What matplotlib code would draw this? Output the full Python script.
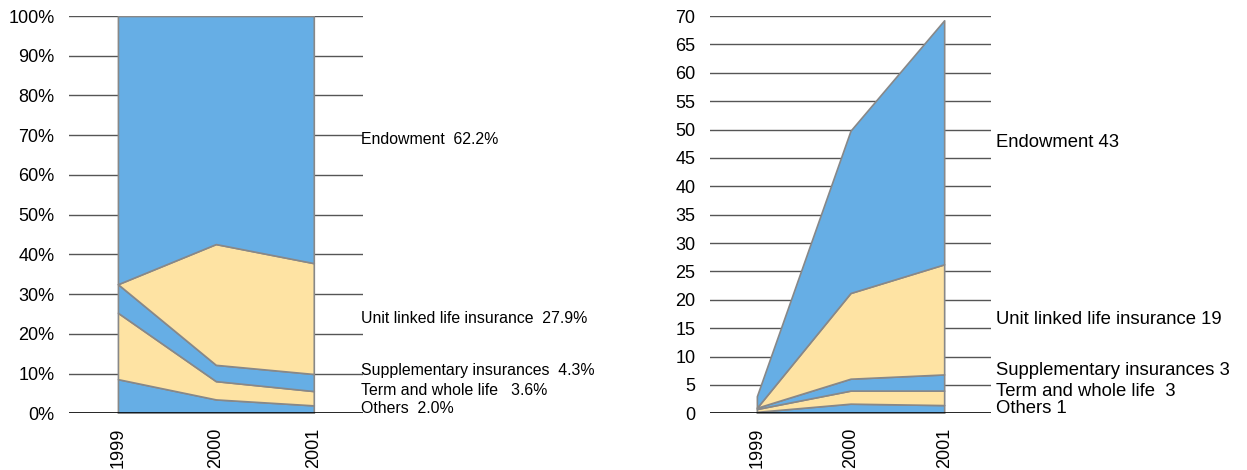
import numpy as np
import matplotlib
matplotlib.use("Agg")
import matplotlib.pyplot as plt

plt.rcParams['font.family'] = ['Liberation Sans', 'DejaVu Sans']

years = ["1999", "2000", "2001"]
categories = ["Others", "Term and whole life", "Supplementary insurances",
              "Unit linked life insurance", "Endowment"]

# shares, % (left chart), bottom to top
share_others = [8.6, 3.5, 2.0]
share_term = [16.7, 4.6, 3.6]
share_supp = [7.2, 4.1, 4.3]
share_unit = [0.0, 30.4, 27.9]
share_endow = [67.5, 57.4, 62.2]

# absolute values (right chart), bottom to top
val_others = [0.26, 1.7, 1.45]
val_term = [0.5, 2.3, 2.55]
val_supp = [0.22, 2.1, 2.85]
val_unit = [0.0, 15.1, 19.4]
val_endow = [2.03, 28.6, 43.0]

left_labels = ["Others  2.0%", "Term and whole life   3.6%", "Supplementary insurances  4.3%",
               "Unit linked life insurance  27.9%", "Endowment  62.2%"]
right_labels = ["Others 1", "Term and whole life  3", "Supplementary insurances 3",
                "Unit linked life insurance 19", "Endowment 43"]

blue = "#66aee5"
yellow = "#fee3a3"
colors = [blue, yellow, blue, yellow, blue]
edge = "#888888"
grid_col = "#555555"


def draw(ax, series, yticks, ymax, ticklabels, labels, label_y, label_x, tick_fs, label_fs):
    x = np.arange(len(years))
    for t in yticks[1:]:
        ax.axhline(t, color=grid_col, lw=1.0, zorder=0)
    ax.axhline(0, color="black", lw=1.2, zorder=3)
    ax.stackplot(x, *series, colors=colors, edgecolor=edge, linewidth=1.2, zorder=2)
    ax.set_xlim(-0.5, 2.5)
    ax.set_ylim(0, ymax)
    ax.set_yticks(yticks)
    ax.set_yticklabels(ticklabels, fontsize=tick_fs)
    ax.set_xticks(x)
    ax.set_xticklabels(years, rotation=90, fontsize=tick_fs)
    ax.tick_params(length=0, pad=10.5)
    for s in ax.spines.values():
        s.set_visible(False)
    for lab, yy in zip(labels, label_y):
        ax.text(label_x, yy, lab, fontsize=label_fs, va="center", ha="left", clip_on=False)


fig = plt.figure(figsize=(12.47, 4.70), dpi=100)
ax1 = fig.add_axes([0.0553, 0.1206, 0.2356, 0.8453])
ax2 = fig.add_axes([0.5694, 0.1206, 0.2253, 0.8453])

pct_ticks = list(range(0, 101, 10))
draw(ax1, [share_others, share_term, share_supp, share_unit, share_endow],
     pct_ticks, 100, [f"{t}%" for t in pct_ticks], left_labels,
     [1.1, 5.7, 10.7, 23.8, 68.9], 2.48, 13, 11.4)

abs_ticks = list(range(0, 71, 5))
draw(ax2, [val_others, val_term, val_supp, val_unit, val_endow],
     abs_ticks, 70, [str(t) for t in abs_ticks], right_labels,
     [0.9, 3.9, 7.5, 16.6, 47.8], 2.55, 13, 13.3)

fig.savefig("out.png", dpi=100)
